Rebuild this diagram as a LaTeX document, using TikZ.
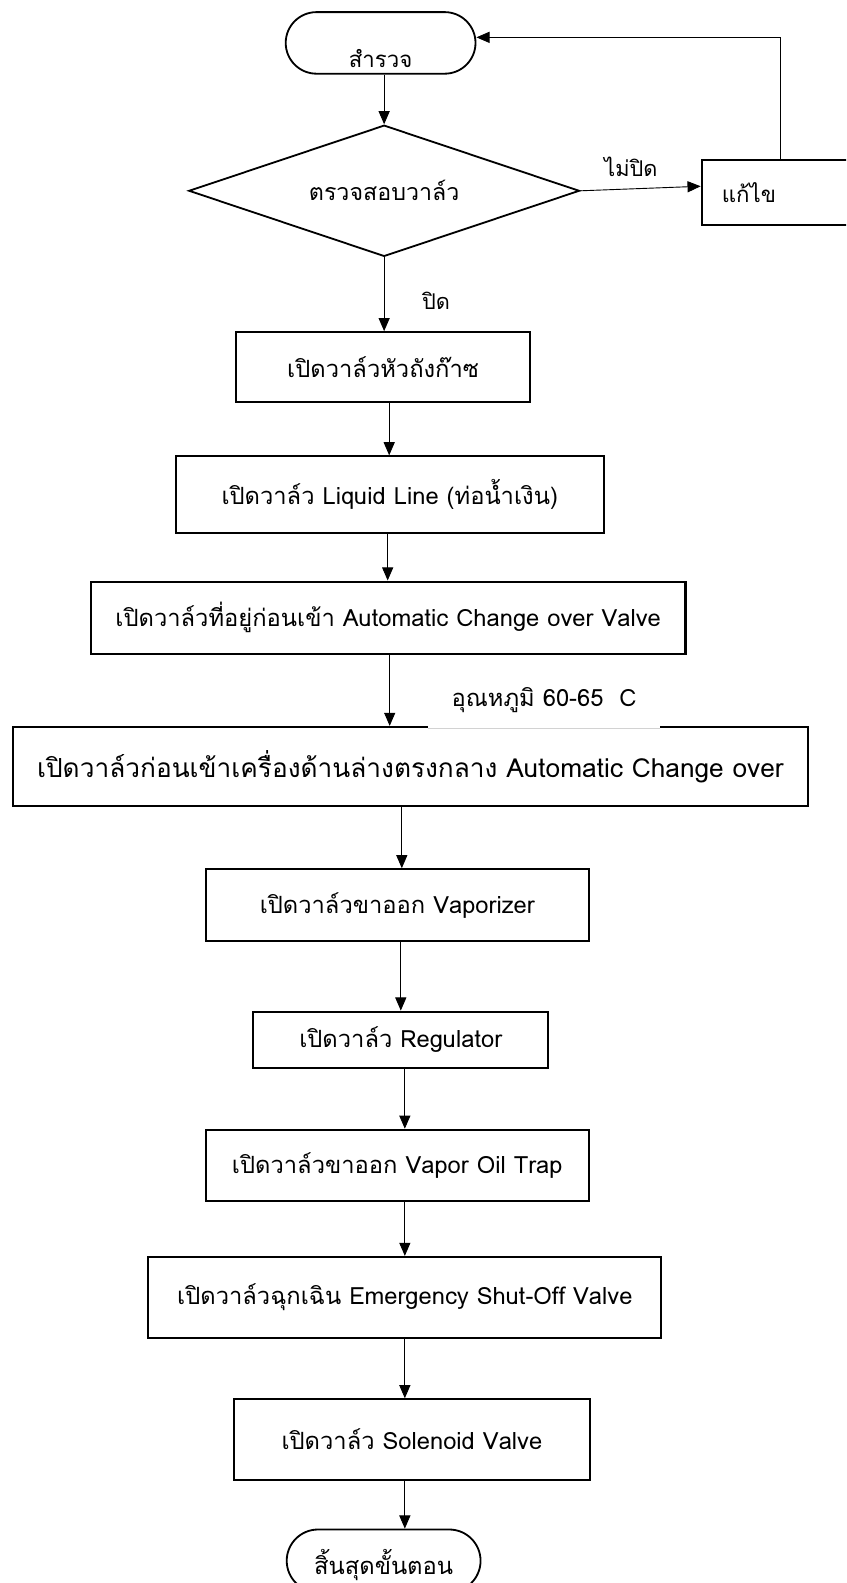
\documentclass[tikz,border=0pt]{standalone}
\usepackage{fontspec}
\setmainfont[Script=Thai]{Loma}
\usetikzlibrary{shapes.geometric,shapes.misc,arrows.meta}
\begin{document}
\begin{tikzpicture}[x=1pt,y=-1pt,
  box/.style={draw,line width=2pt,rectangle,inner sep=0pt,font=\fontsize{23.5}{27}\selectfont},
  term/.style={draw,line width=1.8pt,rounded rectangle,inner sep=0pt,font=\fontsize{22}{26}\selectfont},
  dec/.style={draw,line width=1.8pt,diamond,aspect=3,inner sep=0pt,font=\fontsize{23}{26}\selectfont},
  arr/.style={line width=0.9pt,-{Triangle[length=13pt,width=11pt]}},
  lbl/.style={inner sep=0pt,font=\fontsize{21.5}{25}\selectfont}]
\useasboundingbox (0,0) rectangle (838,1568);
\clip (0,0) rectangle (838,1568);
\node[term,minimum width=188pt,minimum height=61pt] (start) at (377,42.5) {\raisebox{-24pt}[0pt][0pt]{สำรวจ}};
\node[dec,minimum width=387pt,minimum height=130pt] (dia) at (380.5,189) {ตรวจสอบวาล์ว};
\node[box,minimum width=156pt,minimum height=65pt,text width=116pt,align=left,font=\fontsize{22}{26}\selectfont] (fix) at (773,190.5) {แก้ไข};
\node[box,minimum width=291pt,minimum height=69pt] (b1) at (379.5,363.5) {เปิดวาล์วหัวถังก๊าซ};
\node[box,minimum width=424pt,minimum height=76pt] (b2) at (386,490) {เปิดวาล์ว Liquid Line (ท่อน้ำเงิน)};
\node[box,minimum width=589pt,minimum height=72pt] (b3) at (384.5,612) {เปิดวาล์วที่อยู่ก่อนเข้า Automatic Change over Valve};
\node[box,minimum width=787pt,minimum height=78pt,font=\fontsize{26}{30}\selectfont] (b4) at (406.5,759) {เปิดวาล์วก่อนเข้าเครื่องด้านล่างตรงกลาง Automatic Change over};
\node[box,minimum width=379pt,minimum height=71pt] (b5) at (393.5,896.5) {เปิดวาล์วขาออก Vaporizer};
\node[box,minimum width=292pt,minimum height=56pt] (b6) at (397,1030) {เปิดวาล์ว Regulator};
\node[box,minimum width=379pt,minimum height=71pt] (b7) at (393.5,1154.5) {เปิดวาล์วขาออก Vapor Oil Trap};
\node[box,minimum width=508pt,minimum height=80pt] (b8) at (401,1285) {เปิดวาล์วฉุกเฉิน Emergency Shut-Off Valve};
\node[box,minimum width=352pt,minimum height=80pt] (b9) at (408,1426) {เปิดวาล์ว Solenoid Valve};
\node[term,minimum width=192pt,minimum height=62pt,font=\fontsize{23.5}{27}\selectfont] (end) at (380,1546) {\raisebox{-14pt}[0pt][0pt]{สิ้นสุดขั้นตอน}};
\node[lbl,fill=white,minimum width=230pt,minimum height=56pt,font=\fontsize{23.5}{27}\selectfont] (temp) at (539,693) {อุณหภูมิ 60-65~~C};
\draw[gray!35,line width=0.6pt] (temp.south west) -- (temp.south east);
\node[lbl] (no) at (625,165) {ไม่ปิด};
\node[lbl] (yes) at (432,298) {ปิด};
\draw[arr] (start.south -| dia.north) -- (dia.north);
\draw[arr] (dia.east) -- ([yshift=6pt]fix.west);
\draw[arr] (fix.north) |- ([yshift=5.5pt]start.east);
\draw[arr] (dia.south) -- (dia.south |- b1.north);
\draw[arr] ([xshift=6pt]b1.south) -- ([xshift=6pt]b1.south |- b2.north);
\draw[arr] ([xshift=-2pt]b2.south) -- ([xshift=-2pt]b2.south |- b3.north);
\draw[arr] ([xshift=1.5pt]b3.south) -- ([xshift=1.5pt]b3.south |- b4.north);
\draw[arr] ([xshift=4.5pt]b5.north |- b4.south) -- ([xshift=4.5pt]b5.north);
\draw[arr] (b6.north |- b5.south) -- (b6.north);
\draw[arr] ([xshift=4pt]b6.south) -- ([xshift=4pt]b6.south |- b7.north);
\draw[arr] (b8.north |- b7.south) -- (b8.north);
\draw[arr] (b8.south) -- (b8.south |- b9.north);
\draw[arr] (b8.south |- b9.south) -- (b8.south |- end.north);
\end{tikzpicture}
\end{document}
